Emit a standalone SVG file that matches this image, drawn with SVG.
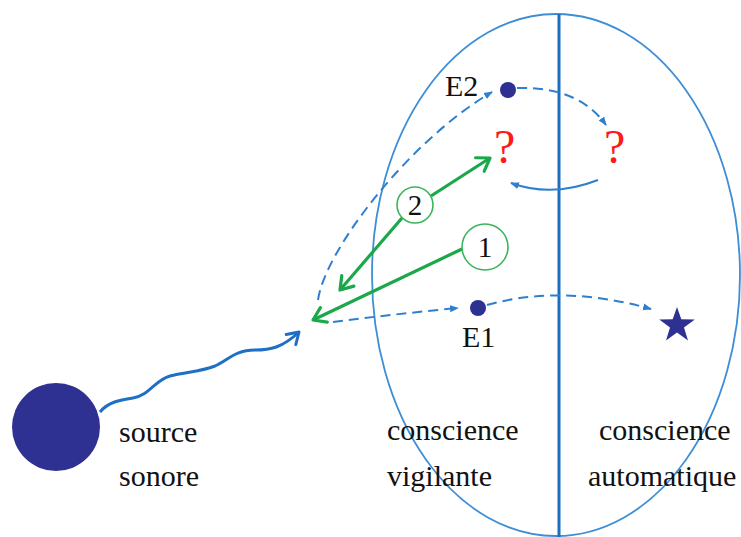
<svg xmlns="http://www.w3.org/2000/svg" width="741" height="537" viewBox="0 0 741 537">
<defs>
<style>
.lbl{font-family:"Liberation Serif","Times New Roman",serif;font-size:30px;fill:#111}
.q{font-family:"Liberation Serif","Times New Roman",serif;font-size:48px;fill:#ff1a1a}
.num{font-family:"Liberation Serif","Times New Roman",serif;font-size:29px;fill:#111;text-anchor:middle}
.dash{fill:none;stroke:#2f7fd0;stroke-width:2;stroke-dasharray:10 6}
.thin{fill:none;stroke:#2f7fd0;stroke-width:2}
.green{fill:none;stroke:#1aa84a;stroke-width:3.2}
.gcirc{fill:#fff;stroke:#3cb45c;stroke-width:1.6}
.dot{fill:#2e3192}
</style>
<marker id="tri" markerUnits="userSpaceOnUse" markerWidth="10" markerHeight="8" refX="8" refY="4" orient="auto">
<path d="M0,0.5 L9,4 L0,7.5 z" fill="#2f7fd0"/>
</marker>
<marker id="gchev" markerUnits="userSpaceOnUse" markerWidth="18" markerHeight="20" refX="14" refY="10" orient="auto">
<path d="M2,2 L14,10 L2,18" fill="none" stroke="#1aa84a" stroke-width="3.2" stroke-linecap="round" stroke-linejoin="round"/>
</marker>
<marker id="bchev" markerUnits="userSpaceOnUse" markerWidth="16" markerHeight="18" refX="13" refY="9" orient="auto">
<path d="M2,2 L13,9 L2,16" fill="none" stroke="#1f6fc4" stroke-width="3" stroke-linecap="round" stroke-linejoin="round"/>
</marker>
</defs>
<rect width="741" height="537" fill="#fff"/>
<g id="conscience-ellipse">
<ellipse cx="556" cy="275" rx="184" ry="261" fill="none" stroke="#3d8ed6" stroke-width="1.8"/>
<line x1="559" y1="14" x2="559" y2="537" stroke="#1b6fc0" stroke-width="3"/>
</g>
<g id="connectors">
<path d="M100,412 C108,402 120,400 133,398 C150,395 155,380 170,376 C185,372 200,372 215,366 C228,360 235,350 255,350 C270,350 282,348 299,332" fill="none" stroke="#1f6fc4" stroke-width="3" marker-end="url(#bchev)"/>
<path class="dash" d="M318,300 C325,250 410,140 492,92" marker-end="url(#tri)"/>
<path class="dash" d="M333,322 Q395,314 458,308" marker-end="url(#tri)"/>
<path class="dash" d="M517,88 Q578,86 606,125" marker-end="url(#tri)"/>
<path class="dash" d="M487,305 Q562,284 651,309" marker-end="url(#tri)"/>
<path class="thin" d="M598,180 Q552,198 511,183" marker-end="url(#tri)"/>
<line class="green" x1="462" y1="249" x2="313" y2="320" marker-end="url(#gchev)"/>
<line class="green" x1="431" y1="196" x2="490" y2="158" marker-end="url(#gchev)"/>
<line class="green" x1="402" y1="218" x2="340" y2="290" marker-end="url(#gchev)"/>
</g>
<g id="source">
<circle cx="56" cy="427" r="44" class="dot"/>
<text class="lbl" x="119" y="442">source</text>
<text class="lbl" x="119" y="486">sonore</text>
</g>
<g id="vigilante-label">
<text class="lbl" x="387" y="440">conscience</text>
<text class="lbl" x="387" y="486">vigilante</text>
</g>
<g id="automatique-label">
<text class="lbl" x="599" y="440">conscience</text>
<text class="lbl" x="588" y="486">automatique</text>
</g>
<g id="E2">
<circle cx="508" cy="90" r="8" class="dot"/>
<text class="lbl" x="445" y="96">E2</text>
</g>
<g id="E1">
<circle cx="478" cy="308" r="8" class="dot"/>
<text class="lbl" x="462" y="347">E1</text>
</g>
<g id="q-left"><text class="q" x="494" y="163">?</text></g>
<g id="q-right"><text class="q" x="604" y="163">?</text></g>
<g id="star">
<polygon class="dot" points="677,307 681.3,319.2 694.8,319.4 684,327.4 688,340.5 677,332.6 666,340.5 670,327.4 659.2,319.4 672.7,319.2"/>
</g>
<g id="step1">
<circle class="gcirc" cx="485" cy="247" r="23"/>
<text class="num" x="485" y="257">1</text>
</g>
<g id="step2">
<circle class="gcirc" cx="415" cy="205" r="18"/>
<text class="num" x="415" y="215">2</text>
</g>
</svg>
